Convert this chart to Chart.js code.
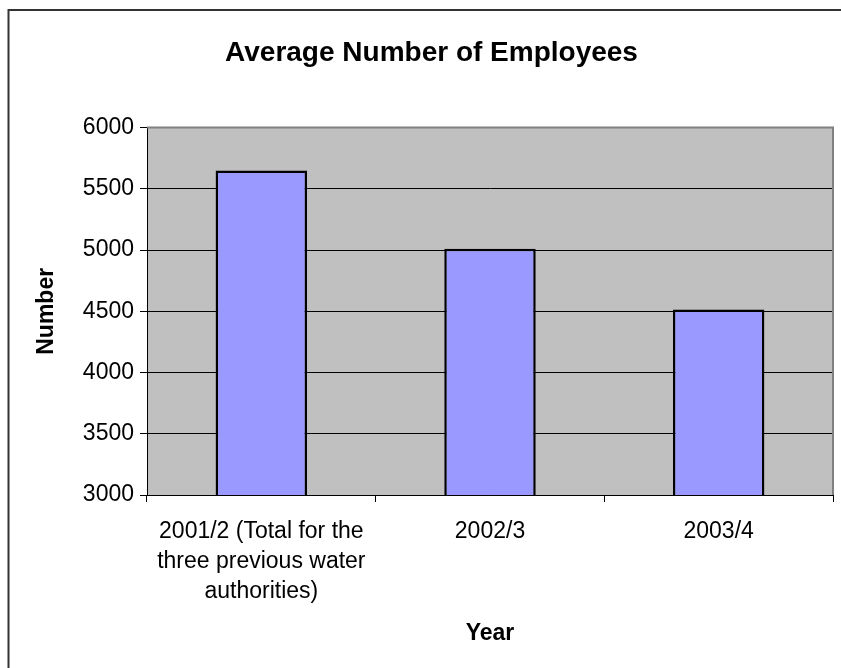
<!DOCTYPE html>
<html>
<head>
<meta charset="utf-8">
<script src="https://cdn.jsdelivr.net/npm/chart.js@4"></script>
<style>
  body { margin: 0; background: #fff; }
  canvas { display: block; }
</style>
</head>
<body>
<canvas id="employeesChart" width="841" height="668"></canvas>
<script>
const categories = [
    ['2001/2 (Total for the', 'three previous water', 'authorities)'],
    '2002/3',
    '2003/4'
];
const employees = [5650, 5010, 4515];
const yMin = 3000;
const yMax = 6000;
const yStep = 500;

const fontFamily = '"Liberation Sans", Arial, sans-serif';

// grey plot background, outer frame and plot border like the old spreadsheet chart
const frame = {
    id: 'frame',
    beforeDraw(chart) {
        const { ctx, chartArea: a } = chart;
        ctx.save();
        ctx.fillStyle = '#fff';
        ctx.fillRect(0, 0, chart.width, chart.height);
        ctx.fillStyle = '#c0c0c0';
        ctx.fillRect(a.left, a.top, a.right - a.left, a.bottom - a.top);
        ctx.restore();
    },
    afterDraw(chart) {
        const { ctx, chartArea: a } = chart;
        ctx.save();
        ctx.strokeStyle = '#808080';
        ctx.lineWidth = 2;
        ctx.beginPath();
        ctx.moveTo(a.left, a.top);
        ctx.lineTo(a.right, a.top);
        ctx.lineTo(a.right, a.bottom);
        ctx.stroke();
        ctx.strokeStyle = '#333';
        ctx.beginPath();
        ctx.moveTo(8.5, chart.height);
        ctx.lineTo(8.5, 10);
        ctx.lineTo(chart.width, 10);
        ctx.stroke();
        ctx.restore();
    }
};

new Chart(document.getElementById('employeesChart'), {
    type: 'bar',
    data: {
        labels: categories,
        datasets: [{
            label: 'Average Number of Employees',
            data: employees,
            backgroundColor: '#9999ff',
            borderColor: '#000',
            borderWidth: 2.5,
            borderSkipped: false,
            barPercentage: 0.4,
            categoryPercentage: 1
        }]
    },
    options: {
        responsive: false,
        animation: false,
        layout: { padding: { left: 30, right: 8, top: 0, bottom: 0 } },
        scales: {
            x: {
                afterFit(scale) { scale.height = 173; },
                grid: { offset: true, drawOnChartArea: false, drawTicks: true, tickLength: 7, color: '#000' },
                border: { color: '#000', width: 1 },
                ticks: {
                    padding: 15,
                    color: '#000',
                    maxRotation: 0,
                    autoSkip: false,
                    font: { family: fontFamily, size: 23, lineHeight: 1.3 }
                },
                title: {
                    display: true,
                    text: 'Year',
                    color: '#000',
                    padding: { top: 0, bottom: 21 },
                    font: { family: fontFamily, size: 23, weight: 'bold' }
                }
            },
            y: {
                min: yMin,
                max: yMax,
                afterFit(scale) { scale.width = 117; },
                grid: { color: '#000', lineWidth: 1, tickLength: 7 },
                border: { color: '#000', width: 1 },
                ticks: {
                    stepSize: yStep,
                    padding: 6,
                    color: '#000',
                    font: { family: fontFamily, size: 23 },
                    callback: (v) => String(v)
                },
                title: {
                    display: true,
                    text: 'Number',
                    color: '#000',
                    padding: { top: 3, bottom: 0 },
                    font: { family: fontFamily, size: 23, weight: 'bold' }
                }
            }
        },
        plugins: {
            legend: { display: false },
            tooltip: { enabled: false },
            title: {
                display: true,
                text: 'Average Number of Employees',
                color: '#000',
                padding: { top: 36, bottom: 58 },
                font: { family: fontFamily, size: 28, weight: 'bold' }
            }
        }
    },
    plugins: [frame]
});
</script>
</body>
</html>
